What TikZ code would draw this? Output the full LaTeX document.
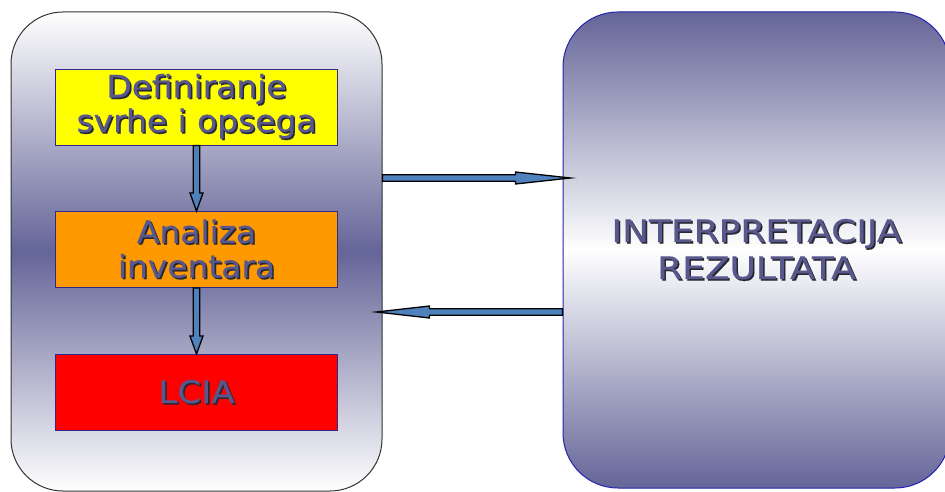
\documentclass[tikz,border=0pt]{standalone}
\usepackage{fontspec}
\setmainfont{DejaVu Sans}
\newfontfamily\leftfont[FakeStretch=1.06,FakeBold=0.5]{DejaVu Sans}
\newfontfamily\rightfont[FakeStretch=1.16,FakeBold=0.5]{DejaVu Sans}
\usetikzlibrary{calc}
\definecolor{dk}{RGB}{100,101,152}
\definecolor{txtcol}{RGB}{88,88,140}
\definecolor{txtshadow}{RGB}{40,40,50}
\definecolor{arrowblue}{RGB}{79,129,189}
\definecolor{innerborder}{RGB}{50,40,140}
\definecolor{rborder}{RGB}{35,35,175}
\definecolor{yel}{RGB}{255,255,0}
\definecolor{ora}{RGB}{255,153,0}
\definecolor{redc}{RGB}{255,0,0}
\newcommand\shtxt[1]{\makebox[0pt][l]{\hspace{1.6pt}\raisebox{-1.6pt}{\color{txtshadow}#1}}#1}
\begin{document}
\begin{tikzpicture}[x=1pt,y=-1pt,
  bigbox/.style={rounded corners=#1, line width=1pt, inner sep=0pt},
  stagebox/.style={draw=innerborder, line width=0.9pt, minimum width=282pt, minimum height=76pt, inner sep=0pt,
    text=txtcol, align=center, font=\leftfont\fontsize{31}{34.5}\selectfont},
  barrow/.style={draw=black, fill=arrowblue, line width=1.3pt, line join=miter, miter limit=20}
]
\useasboundingbox (0,0) rectangle (945,492);
\fill[white] (0,0) rectangle (945,492);
% left big box
\node[bigbox=52pt, draw=black!80, top color=white, bottom color=white, middle color=dk,
      minimum width=371pt, minimum height=479pt] (L) at (196.5,251.5) {};
% right big box
\node[bigbox=55pt, draw=rborder, top color=dk, bottom color=dk, middle color=white,
      minimum width=387pt, minimum height=476pt, text=txtcol, align=center,
      font=\rightfont\fontsize{31}{37}\selectfont] (R) at (756.5,250)
      {\shtxt{INTERPRETACIJA}\\\shtxt{REZULTATA}};
% stage boxes
\node[stagebox, fill=yel] (D) at (196.5,107) {\shtxt{Definiranje}\\\shtxt{svrhe i opsega}};
\node[stagebox, fill=ora] (A) at (196.5,249.5) {\shtxt{Analiza}\\\shtxt{inventara}};
\node[stagebox, fill=redc, font=\leftfont\fontsize{31}{34.5}\selectfont\addfontfeature{FakeStretch=1.1}] (C) at (196.5,392.5) {\shtxt{LCIA}};
% vertical arrows
\draw[barrow] ($(D.south)+(-3.2,0)$) -- ($(A.north)+(-3.2,-18)$) -- ($(A.north)+(-6.5,-18)$) -- (A.north)
  -- ($(A.north)+(6.5,-18)$) -- ($(A.north)+(3.2,-18)$) -- ($(D.south)+(3.2,0)$) -- cycle;
\draw[barrow] ($(A.south)+(-3.2,0)$) -- ($(C.north)+(-3.2,-18)$) -- ($(C.north)+(-6.5,-18)$) -- (C.north)
  -- ($(C.north)+(6.5,-18)$) -- ($(C.north)+(3.2,-18)$) -- ($(A.south)+(3.2,0)$) -- cycle;
% horizontal arrows
\coordinate (t1) at (L.east |- 0,178);
\coordinate (t2) at ($(R.west |- 0,178)+(8,0)$);
\coordinate (b1) at (R.west |- 0,312);
\coordinate (b2) at ($(L.east |- 0,312)+(-6,0)$);
\draw[barrow] ($(t1)+(0,-3.2)$) -- ($(t2)+(-55,-3.2)$) -- ($(t2)+(-55,-6)$) -- (t2)
  -- ($(t2)+(-55,6)$) -- ($(t2)+(-55,3.2)$) -- ($(t1)+(0,3.2)$) -- cycle;
\draw[barrow] ($(b1)+(0,-3.2)$) -- ($(b2)+(53,-3.2)$) -- ($(b2)+(53,-6)$) -- (b2)
  -- ($(b2)+(53,6)$) -- ($(b2)+(53,3.2)$) -- ($(b1)+(0,3.2)$) -- cycle;
\end{tikzpicture}
\end{document}
